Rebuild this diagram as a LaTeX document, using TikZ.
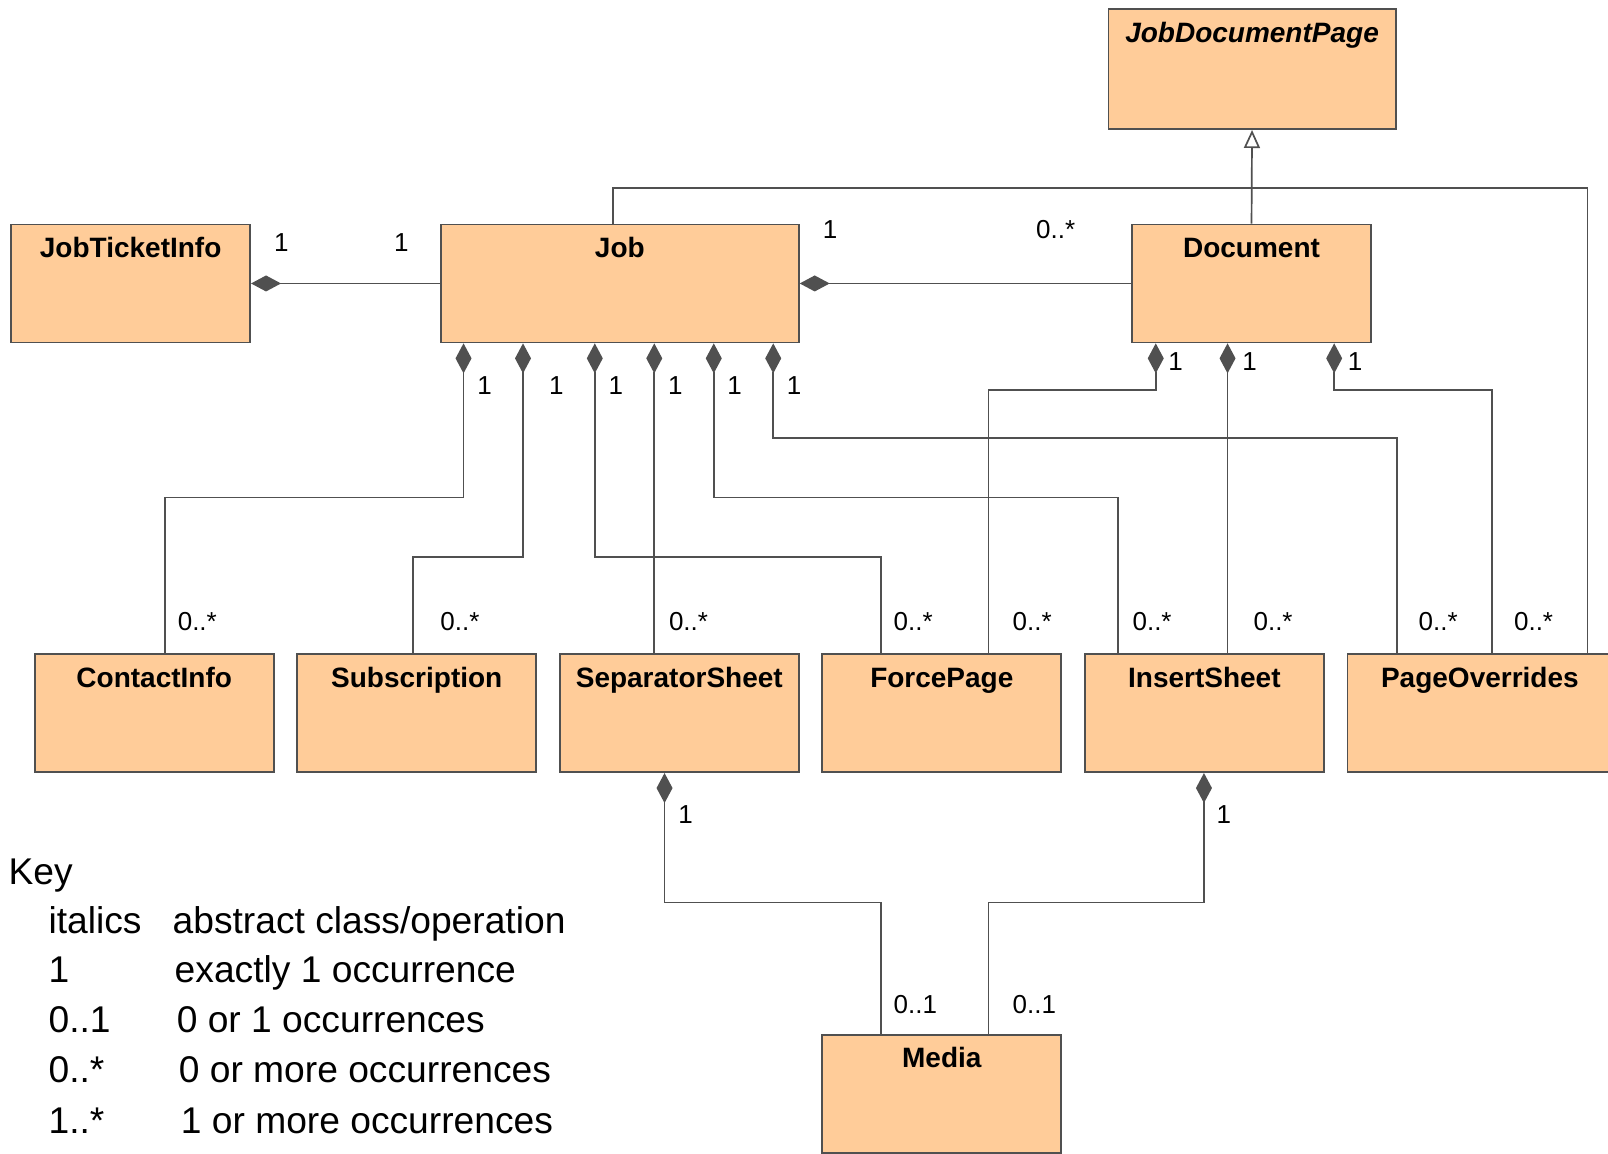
\documentclass[tikz,border=0pt]{standalone}
\usepackage{fontspec}
\setmainfont{Liberation Sans}
\usetikzlibrary{arrows.meta}
\definecolor{peach}{HTML}{FFCC99}
\definecolor{linegray}{HTML}{505050}
\begin{document}
\begin{tikzpicture}[x=0.5128pt,y=-0.5128pt,
  cls/.style={draw=linegray,fill=peach,line width=0.9pt,anchor=north west,inner sep=0pt,minimum width=119.5pt,minimum height=59pt},
  cname/.style={anchor=base,yshift=-17pt,font=\bfseries\fontsize{14}{16}\selectfont},
  conn/.style={draw=linegray,line width=0.85pt},
  comp/.style={conn,{Diamond[length=15pt,width=8pt,fill=linegray]}-},
  gen/.style={conn,-{Triangle[open,length=9pt,width=8pt,fill=white]}},
  mult/.style={anchor=base west,inner sep=0pt,font=\fontsize{13}{15}\selectfont},
  keytxt/.style={anchor=base west,inner sep=0pt,font=\fontsize{18.6}{22}\selectfont}]
\useasboundingbox (0,0) rectangle (1568,1125);
\node[cls,minimum width=143.6pt,minimum height=60pt,label={[cname,font=\bfseries\itshape\fontsize{14}{16}\selectfont]north:JobDocumentPage}] (jdp) at (1080,8) {};
\node[cls,label={[cname]north:JobTicketInfo}] (jti) at (10,218) {};
\node[cls,minimum width=179pt,label={[cname]north:Job}] (job) at (429,218) {};
\node[cls,label={[cname]north:Document}] (doc) at (1103,218) {};
\node[cls,label={[cname]north:ContactInfo}] (contact) at (33,637) {};
\node[cls,label={[cname]north:Subscription}] (subs) at (289,637) {};
\node[cls,label={[cname]north:SeparatorSheet}] (sep) at (545,637) {};
\node[cls,label={[cname]north:ForcePage}] (force) at (801,637) {};
\node[cls,label={[cname]north:InsertSheet}] (insert) at (1057,637) {};
\node[cls,minimum width=132.5pt,label={[cname]north:PageOverrides}] (pover) at (1313,637) {};
\node[cls,label={[cname]north:Media}] (media) at (801,1008) {};
\draw[comp] (jti.east) -- (job.west);
\draw[comp] (job.east) -- (doc.west);
\draw[gen] (doc.north) -- (jdp.south);
\draw[conn] (job.north -| 598,0) |- (1548,183) -- (pover.north -| 1548,0);
\draw[comp] (job.south -| 452,0) |- (161,485) -- (contact.north -| 161,0);
\draw[comp] (job.south -| 510,0) |- (403,543) -- (subs.north -| 403,0);
\draw[comp] (job.south -| 580,0) |- (859,543) -- (force.north -| 859,0);
\draw[comp] (job.south -| 638,0) -- (sep.north -| 638,0);
\draw[comp] (job.south -| 696,0) |- (1090,485) -- (insert.north -| 1090,0);
\draw[comp] (job.south -| 754,0) |- (1362,427) -- (pover.north -| 1362,0);
\draw[comp] (doc.south -| 1127,0) |- (964,380) -- (force.north -| 964,0);
\draw[comp] (doc.south -| 1197,0) -- (insert.north -| 1197,0);
\draw[comp] (doc.south -| 1301,0) |- (1455,380) -- (pover.north -| 1455,0);
\draw[comp] (sep.south -| 648,0) |- (859,880) -- (media.north -| 859,0);
\draw[comp] (insert.south -| 1174,0) |- (964,880) -- (media.north -| 964,0);
\node[mult] (m1) at (267,245) {1};
\node[mult] (m2) at (384,245) {1};
\node[mult] (m3) at (802,233) {1};
\node[mult] (m4) at (1010,233) {0..*};
\node[mult] (j1) at (465,385) {1};
\node[mult] (j2) at (535,385) {1};
\node[mult] (j3) at (593,385) {1};
\node[mult] (j4) at (651,385) {1};
\node[mult] (j5) at (709,385) {1};
\node[mult] (j6) at (767,385) {1};
\node[mult] (d1) at (1139,361) {1};
\node[mult] (d2) at (1211,361) {1};
\node[mult] (d3) at (1314,361) {1};
\node[mult] (c1) at (173,615) {0..*};
\node[mult] (c2) at (429,615) {0..*};
\node[mult] (c3) at (652,615) {0..*};
\node[mult] (c4) at (871,615) {0..*};
\node[mult] (c5) at (987,615) {0..*};
\node[mult] (c6) at (1104,615) {0..*};
\node[mult] (c7) at (1222,615) {0..*};
\node[mult] (c8) at (1383,615) {0..*};
\node[mult] (c9) at (1476,615) {0..*};
\node[mult] (s1) at (661,803) {1};
\node[mult] (s2) at (1186,803) {1};
\node[mult] (md1) at (871,988) {0..1};
\node[mult] (md2) at (987,988) {0..1};
\node[keytxt] (key) at (8,862) {Key};
\node[keytxt] (k1a) at (47,910) {italics};
\node[keytxt] (k1b) at (168,910) {abstract class/operation};
\node[keytxt] (k2a) at (47,958) {1};
\node[keytxt] (k2b) at (170,958) {exactly 1 occurrence};
\node[keytxt] (k3a) at (47,1007) {0..1};
\node[keytxt] (k3b) at (172,1007) {0 or 1 occurrences};
\node[keytxt] (k4a) at (47,1056) {0..*};
\node[keytxt] (k4b) at (174,1056) {0 or more occurrences};
\node[keytxt] (k5a) at (47,1105) {1..*};
\node[keytxt] (k5b) at (176,1105) {1 or more occurrences};
\end{tikzpicture}
\end{document}
